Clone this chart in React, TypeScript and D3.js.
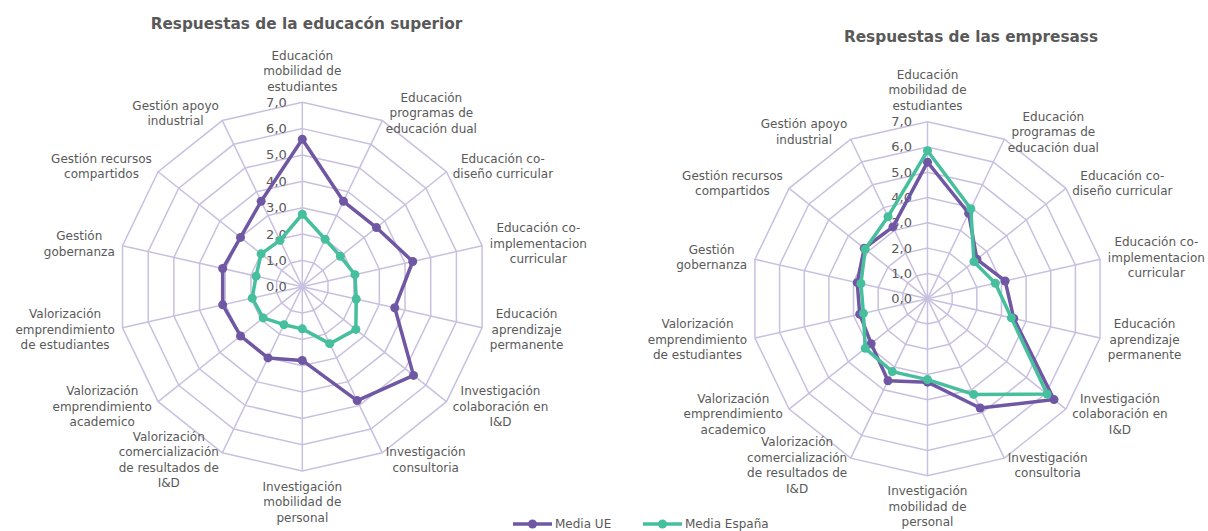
import * as d3 from "d3";
import { useRef, useEffect } from "react";

// ejes (en orden horario desde arriba)
const categories: string[][] = [
  ["Educación", "mobilidad de", "estudiantes"],
  ["Educación", "programas de", "educación dual"],
  ["Educación co-", "diseño curricular"],
  ["Educación co-", "implementacion", "curricular"],
  ["Educación", "aprendizaje", "permanente"],
  ["Investigación", "colaboración en", "I&D"],
  ["Investigación", "consultoria"],
  ["Investigación", "mobilidad de", "personal"],
  ["Valorización", "comercialización", "de resultados de", "I&D"],
  ["Valorización", "emprendimiento", "academico"],
  ["Valorización", "emprendimiento", "de estudiantes"],
  ["Gestión", "gobernanza"],
  ["Gestión recursos", "compartidos"],
  ["Gestión apoyo", "industrial"],
];

const eduUE = [5.6, 3.6, 3.6, 4.3, 3.6, 5.4, 4.8, 2.8, 3.0, 3.0, 3.1, 3.1, 3.0, 3.6];
const eduES = [2.75, 2.0, 1.85, 2.05, 2.1, 2.6, 2.4, 1.6, 1.6, 1.9, 1.95, 1.8, 2.0, 1.95];
const empUE = [5.4, 3.75, 2.5, 3.15, 3.5, 6.4, 4.8, 3.3, 3.6, 2.85, 2.75, 2.85, 3.2, 3.15];
const empES = [5.85, 3.95, 2.35, 2.75, 3.4, 6.05, 4.2, 3.2, 3.2, 3.15, 2.6, 2.7, 3.15, 3.6];

const ticks = [0, 1, 2, 3, 4, 5, 6, 7];
const seriesNames = ["Media UE", "Media España"];

const colUE = "#7057a3";
const colES = "#45bf9c";
const gridCol = "#c9c0e0";
const textCol = "#595959";
const font = "'DejaVu Sans', Verdana, sans-serif";

const charts = [
  { title: "Respuestas de la educacón superior", cx: 302.3, cy: 286.7, R: 184.4, tx: 306.5, ty: 24, ue: eduUE, es: eduES },
  { title: "Respuestas de las empresass", cx: 927.5, cy: 298.7, R: 177, tx: 971, ty: 37, ue: empUE, es: empES },
];

const App = () => {
  const ref = useRef<SVGSVGElement>(null);

  useEffect(() => {
    const svg = d3.select(ref.current);
    svg.selectAll("*").remove();
    const n = categories.length;
    const angle = d3.scaleLinear().domain([0, n]).range([0, 2 * Math.PI]);
    const lh = 15.5;

    charts.forEach((c) => {
      const r = d3.scaleLinear().domain([0, 7]).range([0, c.R]);
      const g = svg.append("g").attr("transform", `translate(${c.cx},${c.cy})`);

      // rejilla
      const ring = d3.lineRadial<number>()
        .angle((_, i) => angle(i))
        .radius((d) => r(d))
        .curve(d3.curveLinearClosed);
      ticks.slice(1).forEach((t) => {
        g.append("path")
          .attr("d", ring(categories.map(() => t)))
          .attr("fill", "none")
          .attr("stroke", gridCol)
          .attr("stroke-width", 1.5);
      });
      categories.forEach((_, i) => {
        const a = angle(i);
        g.append("line")
          .attr("x1", 0).attr("y1", 0)
          .attr("x2", r(7) * Math.sin(a)).attr("y2", -r(7) * Math.cos(a))
          .attr("stroke", gridCol)
          .attr("stroke-width", 1.5);
      });

      // etiquetas de escala
      ticks.forEach((t) => {
        g.append("text")
          .attr("x", -15.5)
          .attr("y", -r(t))
          .attr("text-anchor", "end")
          .attr("dominant-baseline", "central")
          .attr("font-family", font)
          .attr("font-size", 13)
          .attr("fill", textCol)
          .text(t.toFixed(1).replace(".", ","));
      });

      // series
      [[c.ue, colUE], [c.es, colES]].forEach(([vals, col]: any) => {
        g.append("path")
          .attr("d", ring(vals))
          .attr("fill", "none")
          .attr("stroke", col)
          .attr("stroke-width", 3.5)
          .attr("stroke-linejoin", "round");
        g.selectAll(null)
          .data(vals as number[])
          .enter()
          .append("circle")
          .attr("cx", (d, i) => r(d) * Math.sin(angle(i)))
          .attr("cy", (d, i) => -r(d) * Math.cos(angle(i)))
          .attr("r", 4.5)
          .attr("fill", col);
      });

      // etiquetas de categorias
      categories.forEach((lines, i) => {
        const a = angle(i);
        const ax = (c.R + 8) * Math.sin(a);
        const ay = -(c.R + 8) * Math.cos(a);
        const t = g.append("text")
          .attr("font-family", font)
          .attr("font-size", 12)
          .attr("fill", textCol)
          .attr("text-anchor", "middle");
        lines.forEach((l) => t.append("tspan").text(l));
        const w = Math.max(...(t.selectAll("tspan").nodes() as any[]).map((nd) => nd.getComputedTextLength()));
        const h = lines.length * lh;
        let mx = ax, my = ay;
        if (Math.abs(Math.sin(a)) < 0.01) {
          my = Math.cos(a) > 0 ? ay - h / 2 : ay + h / 2;
        } else {
          mx = Math.sin(a) > 0 ? ax + w / 2 : ax - w / 2;
        }
        t.selectAll("tspan")
          .attr("x", mx)
          .attr("y", (_, j) => my + (j - (lines.length - 1) / 2) * lh)
          .attr("dominant-baseline", "central");
      });

      svg.append("text")
        .attr("x", c.tx)
        .attr("y", c.ty)
        .attr("text-anchor", "middle")
        .attr("dominant-baseline", "central")
        .attr("font-family", font)
        .attr("font-size", 15.3)
        .attr("font-weight", "bold")
        .attr("fill", textCol)
        .text(c.title);
    });

    // leyenda
    const legendX = [513, 643];
    [colUE, colES].forEach((col, i) => {
      const lg = svg.append("g").attr("transform", `translate(${legendX[i]},524)`);
      lg.append("line").attr("x1", 0).attr("x2", 39).attr("stroke", col).attr("stroke-width", 3.5);
      lg.append("circle").attr("cx", 19.5).attr("r", 4.5).attr("fill", col);
      lg.append("text")
        .attr("x", 42)
        .attr("dominant-baseline", "central")
        .attr("font-family", font)
        .attr("font-size", 12)
        .attr("fill", textCol)
        .text(seriesNames[i]);
    });
  }, []);

  return (
    <svg
      ref={ref}
      width={1208}
      height={531}
      style={{ position: "absolute", left: 0, top: 0, background: "#fff" }}
    />
  );
};

export default App;
